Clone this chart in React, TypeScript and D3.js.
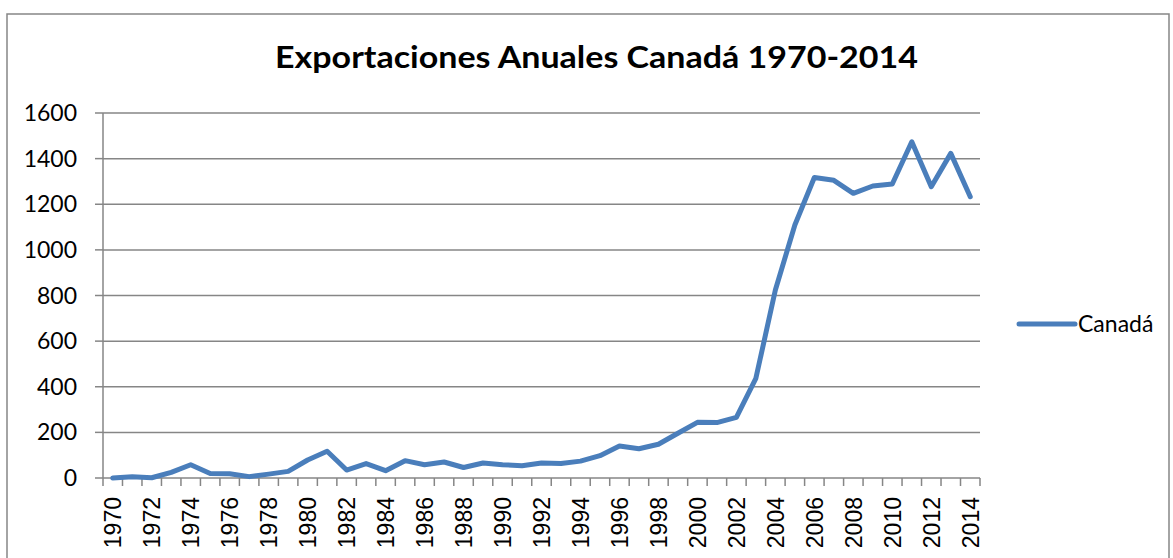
import React from "react";
import * as d3 from "d3";

const years: string[] = [
  "1970","1971","1972","1973","1974","1975","1976","1977","1978","1979",
  "1980","1981","1982","1983","1984","1985","1986","1987","1988","1989",
  "1990","1991","1992","1993","1994","1995","1996","1997","1998","1999",
  "2000","2001","2002","2003","2004","2005","2006","2007","2008","2009",
  "2010","2011","2012","2013","2014",
];
const canada: number[] = [
  0, 5, 1, 25, 58, 20, 19, 6, 17, 29,
  79, 117, 35, 63, 32, 76, 58, 70, 46, 66,
  58, 54, 66, 64, 74, 98, 140, 128, 148, 196,
  244, 243, 266, 437, 824, 1109, 1317, 1305, 1248, 1280,
  1289, 1474, 1277, 1423, 1233,
];
const yTicks: number[] = [0, 200, 400, 600, 800, 1000, 1200, 1400, 1600];
const xTickLabels: string[] = years.filter((_, i) => i % 2 === 0);
const title = "Exportaciones Anuales Canadá 1970-2014";
const seriesName = "Canadá";

const W = 1173, H = 558;
const left = 103, right = 980, top = 113, bottom = 478;
const gray = "#868686";
const blue = "#4a7ebb";
const sans = "Lato, 'Open Sans', sans-serif";

export default function App() {
  const x = d3.scaleBand<string>().domain(years).range([left, right]).padding(0);
  const y = d3.scaleLinear().domain([0, 1600]).range([bottom, top]);
  const line = d3.line<number>()
    .x((_, i) => (x(years[i]) as number) + x.bandwidth() / 2)
    .y((d) => y(d));

  const boundaries = years.map((yr) => x(yr) as number).concat([right]);

  return (
    <svg width={W} height={H} style={{ position: "absolute", left: 0, top: 0, background: "#fff" }}>
      <rect x={7} y={14} width={1162} height={560} fill="#fff" stroke={gray} strokeWidth={1.5} />
      <text x={275} y={68} textLength={643} lengthAdjust="spacingAndGlyphs" fontFamily={sans} fontWeight="bold" fontSize={30} fill="#000">
        {title}
      </text>
      {yTicks.map((t) => (
        <g key={t}>
          {t > 0 && <line x1={left} x2={right} y1={y(t)} y2={y(t)} stroke={gray} strokeWidth={1.5} />}
          <line x1={left - 8} x2={left} y1={y(t)} y2={y(t)} stroke={gray} strokeWidth={1.5} />
          <text x={77} y={y(t)} dy="0.35em" textAnchor="end" fontFamily={sans} fontSize={23} fill="#000">
            {t}
          </text>
        </g>
      ))}
      <line x1={left} x2={left} y1={top} y2={bottom} stroke={gray} strokeWidth={1.5} />
      <line x1={left} x2={right} y1={bottom} y2={bottom} stroke={gray} strokeWidth={1.5} />
      {boundaries.map((bx, i) => (
        <line key={i} x1={bx} x2={bx} y1={bottom} y2={bottom + 8} stroke={gray} strokeWidth={1.5} />
      ))}
      {xTickLabels.map((yr) => {
        const cx = (x(yr) as number) + x.bandwidth() / 2;
        return (
          <text key={yr} transform={`translate(${cx},${bottom + 19}) rotate(-90)`} textAnchor="end" dy="0.36em"
            fontFamily="'Liberation Sans', Arial, sans-serif" fontSize={23} fill="#000">
            {yr}
          </text>
        );
      })}
      <path d={line(canada) || ""} fill="none" stroke={blue} strokeWidth={5} strokeLinejoin="round" strokeLinecap="round" />
      <line x1={1019} x2={1075} y1={324} y2={324} stroke={blue} strokeWidth={5} strokeLinecap="round" />
      <text x={1078} y={324} dy="0.35em" fontFamily={sans} fontSize={23} fill="#000">{seriesName}</text>
    </svg>
  );
}
